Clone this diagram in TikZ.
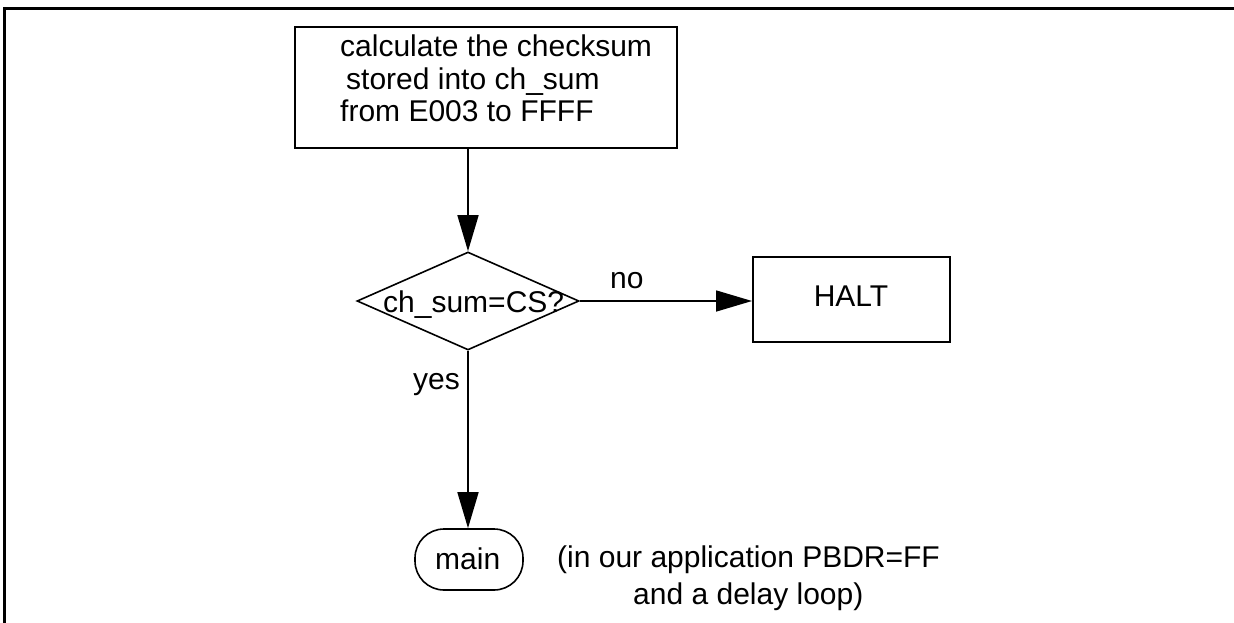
\documentclass[tikz,border=0pt]{standalone}
\usepackage{fontspec}
\setmainfont{Liberation Sans}
\usetikzlibrary{shapes.geometric,arrows.meta}
\begin{document}
\begin{tikzpicture}[x=1pt,y=-1pt,
  every node/.style={font=\fontsize{30}{36}\selectfont},
  frame/.style={line width=3pt},
  procbox/.style={draw,line width=2pt,inner sep=0pt},
  decision/.style={draw,diamond,line width=1.6pt,inner sep=0pt},
  terminal/.style={draw,line width=1.6pt,rounded corners=29pt,inner sep=0pt},
  label/.style={inner sep=0pt,anchor=base west},
  flow/.style={line width=1.6pt,-{Triangle[length=36pt,width=21pt]}},
  plain/.style={line width=1.6pt}]
\useasboundingbox (0,0) rectangle (1234,623);

% partial frame (top and left edges only)
\draw[frame] (1240,9) -- (4,9) -- (4,630);

% shapes
\node[procbox,minimum width=382pt,minimum height=121pt] (calc) at (486,87.5) {};
\node[decision,minimum width=222pt,minimum height=98pt] (dec) at (468,301) {};
\node[procbox,minimum width=197pt,minimum height=85pt] (halt) at (851.5,299.5) {};
\node[terminal,minimum width=108pt,minimum height=61pt] (main) at (469,559.5) {};

% texts
\node[label] (t1) at (340,57) {calculate the checksum};
\node[label] (t2) at (346,90) {stored into ch\_sum};
\node[label] (t3) at (340,122) {from E003 to FFFF};
\node[label] (tdec) at (383,312) {ch\_sum=CS?};
\node[inner sep=0pt,anchor=base] (thalt) at (851,306) {HALT};
\node[label] (tmain) at (435,569) {main};
\node[label] (tno) at (610,288) {no};
\node[label] (tyes) at (413,389) {yes};
\node[label] (n1) at (557,567) {(in our application PBDR=FF};
\node[label] (n2) at (633,604) {and a delay loop)};

% connectors
\draw[flow] (calc.south -| dec.north) -- (dec.north);
\draw[flow] (dec.east) -- (dec.east -| halt.west);
\draw[flow] (dec.south) -- (dec.south |- main.north);
\end{tikzpicture}
\end{document}
